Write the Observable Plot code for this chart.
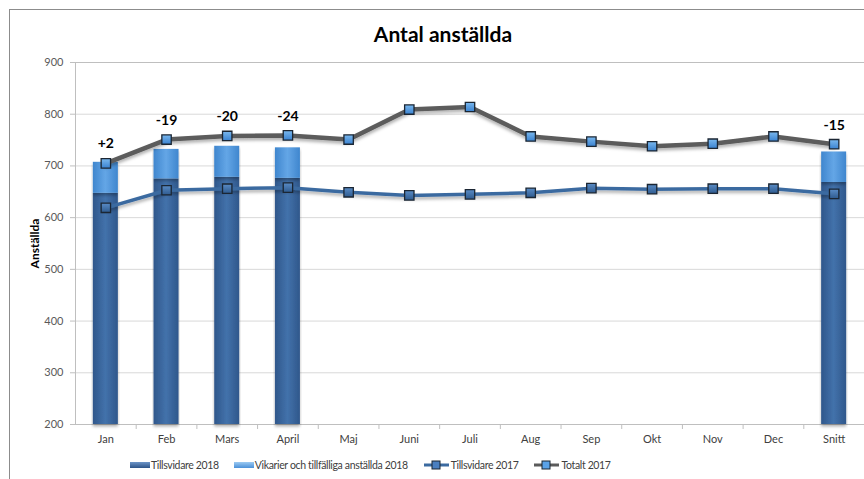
<!DOCTYPE html>
<html>
<head>
<meta charset="utf-8">
<script src="https://cdn.jsdelivr.net/npm/d3@7"></script>
<script src="https://cdn.jsdelivr.net/npm/@observablehq/plot@0.6"></script>
<style>
  html, body { margin: 0; padding: 0; background: #fff; }
  body { width: 864px; height: 479px; overflow: hidden; position: relative; font-family: Lato, "Open Sans", sans-serif; }
  #frame { position: absolute; left: 9px; top: 9px; width: 900px; height: 520px; border: 1.5px solid #8c8c8c; box-sizing: border-box; }
  #title { position: absolute; left: 0; width: 886px; top: 21px; text-align: center; font-size: 21px; font-weight: bold; color: #000; }
  #chart { position: absolute; left: 0; top: 40px; }
  #legend { position: absolute; left: 130px; top: 459px; display: flex; align-items: center; font-family: Lato, sans-serif; font-size: 10.5px; letter-spacing: -0.35px; color: #404040; }
  #legend .item { display: flex; align-items: center; margin-right: 15px; }
  #legend svg { margin-right: 1px; }
</style>
</head>
<body>
<div id="frame"></div>
<div id="title">Antal anställda</div>
<div id="chart"></div>
<div id="legend"></div>
<script>
const months = ["Jan","Feb","Mars","April","Maj","Juni","Juli","Aug","Sep","Okt","Nov","Dec","Snitt"];
const tillsvidare2018 = [647, 675, 678, 676, null, null, null, null, null, null, null, null, 668];
const vikarier2018 = [60, 57, 60, 59, null, null, null, null, null, null, null, null, 59];
const tillsvidare2017 = [619, 653, 656, 658, 649, 643, 645, 648, 657, 655, 656, 656, 646];
const totalt2017 = [705, 751, 758, 759, 751, 809, 814, 757, 747, 738, 743, 757, 742];
const diffLabels = ["+2", "-19", "-20", "-24", null, null, null, null, null, null, null, null, "-15"];
const yTicks = [200, 300, 400, 500, 600, 700, 800, 900];
const yLabel = "Anställda";
const seriesNames = ["Tillsvidare 2018", "Vikarier och tillfälliga anställda 2018", "Tillsvidare 2017", "Totalt 2017"];

const rows = months.map((m, i) => ({
  month: m,
  tv18: tillsvidare2018[i],
  vik18: vikarier2018[i],
  tot18: tillsvidare2018[i] == null ? null : tillsvidare2018[i] + vikarier2018[i],
  tv17: tillsvidare2017[i],
  tot17: totalt2017[i],
  label: diffLabels[i]
}));
const barRows = rows.filter(d => d.tv18 != null);
const labelRows = rows.filter(d => d.label != null);

const W = 864, ML = 75, MR = 0;
const bw = (W - ML - MR) / months.length;
const inset = (bw - 25) / 2;

const chart = Plot.plot({
  width: W,
  height: 412,
  marginLeft: ML,
  marginRight: MR,
  marginTop: 22,
  marginBottom: 28,
  style: { fontFamily: "Lato, 'Open Sans', sans-serif", fontSize: "11px", color: "#595959", overflow: "visible" },
  x: { type: "band", domain: months, paddingInner: 0, paddingOuter: 0, round: false, label: null },
  y: { domain: [200, 900], label: null },
  marks: [
    Plot.gridY(yTicks, { stroke: "#d9d9d9", strokeOpacity: 1 }),
    Plot.frame({ stroke: "#bfbfbf" }),
    Plot.axisY(yTicks, { tickSize: 5, tickPadding: 7, stroke: "#bfbfbf", fill: "#595959", label: null }),
    Plot.axisX({ tickSize: 0, tickPadding: 11, fill: "#404040", label: null }),
    Plot.ruleX(months.slice(1), { x: d => d, y1: 200, y2: 200, insetBottom: -5, dx: -bw / 2, stroke: "#bfbfbf" }),
    Plot.text([yLabel], { frameAnchor: "left", textAnchor: "middle", rotate: -90, dx: -40, fontWeight: "bold", fontSize: 12, fill: "#000" }),
    // bars
    Plot.barY(barRows, { x: "month", y1: 200, y2: "tv18", fill: "url(#gDark)", insetLeft: inset, insetRight: inset }),
    Plot.barY(barRows, { x: "month", y1: "tv18", y2: "tot18", fill: "url(#gLight)", insetLeft: inset, insetRight: inset }),
    Plot.tickY(barRows, { x: "month", y: "tv18", stroke: "url(#gDarkTop)", strokeWidth: 6, dy: 3, insetLeft: inset, insetRight: inset }),
    Plot.tickY(barRows, { x: "month", y: "tot18", stroke: "url(#gLightTop)", strokeWidth: 7, dy: 3.5, insetLeft: inset, insetRight: inset }),
    // lines
    Plot.lineY(rows, { x: "month", y: "tv17", stroke: "#3b6aa0", strokeWidth: 3.5 }),
    Plot.lineY(rows, { x: "month", y: "tot17", stroke: "#5b5b5b", strokeWidth: 4.5 }),
    Plot.dot(rows, { x: "month", y: "tv17", symbol: "square", r: 5.3, fill: "url(#gMarkDark)", stroke: "#1b2633", strokeWidth: 1.3 }),
    Plot.dot(rows, { x: "month", y: "tot17", symbol: "square", r: 5.3, fill: "url(#gMarkLight)", stroke: "#1b2633", strokeWidth: 1.3 }),
    Plot.text(labelRows, { x: "month", y: d => Math.max(d.tot17, d.tot18), text: "label", dy: -19, fontWeight: "bold", fontSize: 14, fill: "#000" })
  ]
});

const svg = d3.select(chart);
const defs = svg.insert("defs", ":first-child");
function grad(id, stops, vertical) {
  const g = defs.append("linearGradient").attr("id", id)
    .attr("x1", 0).attr("y1", 0).attr("x2", vertical ? 0 : 1).attr("y2", vertical ? 1 : 0);
  stops.forEach(([o, c]) => g.append("stop").attr("offset", o).attr("stop-color", c));
}
grad("gDark", [[0, "#2f578b"], [0.5, "#4372ab"], [1, "#2f578b"]]);
grad("gLight", [[0, "#3f86ce"], [0.5, "#64a6e6"], [1, "#3f86ce"]]);
grad("gDarkTop", [[0, "#3f6aa0"], [0.5, "#6d95c8"], [1, "#3f6aa0"]]);
grad("gLightTop", [[0, "#5b9ad8"], [0.5, "#8ec2f0"], [1, "#5b9ad8"]]);
grad("gMarkDark", [[0, "#5a8cc6"], [1, "#2e5a8e"]], true);
grad("gMarkLight", [[0, "#7ab8ee"], [1, "#3a82d0"]], true);
const f = defs.append("filter").attr("id", "shadow").attr("x", "-5%").attr("y", "-20%").attr("width", "110%").attr("height", "160%");
f.append("feDropShadow").attr("dx", 0).attr("dy", 2.5).attr("stdDeviation", 1.5).attr("flood-color", "#000").attr("flood-opacity", 0.3);
svg.selectAll("g[aria-label=line] path").attr("filter", "url(#shadow)");
svg.selectAll("g[aria-label=bar] rect").attr("filter", "url(#shadow)");

document.getElementById("chart").appendChild(chart);

// legend
const legend = d3.select("#legend");
const items = [
  { name: seriesNames[0], type: "bar", fill: "url(#lgDark)" },
  { name: seriesNames[1], type: "bar", fill: "url(#lgLight)" },
  { name: seriesNames[2], type: "line", stroke: "#3b6aa0", mark: "#4a7fc0" },
  { name: seriesNames[3], type: "line", stroke: "#5b5b5b", mark: "#5aa2e8" }
];
items.forEach((it, i) => {
  const el = legend.append("div").attr("class", "item");
  const s = el.append("svg").attr("width", it.type === "bar" ? 20 : 27).attr("height", 12);
  if (i === 0) {
    const d = s.append("defs");
    const g1 = d.append("linearGradient").attr("id", "lgDark").attr("x1", 0).attr("y1", 0).attr("x2", 0).attr("y2", 1);
    g1.append("stop").attr("offset", 0).attr("stop-color", "#6d95c8");
    g1.append("stop").attr("offset", 1).attr("stop-color", "#2d5488");
    const g2 = d.append("linearGradient").attr("id", "lgLight").attr("x1", 0).attr("y1", 0).attr("x2", 0).attr("y2", 1);
    g2.append("stop").attr("offset", 0).attr("stop-color", "#9ccaf2");
    g2.append("stop").attr("offset", 1).attr("stop-color", "#4a90d8");
  }
  if (it.type === "bar") {
    s.append("rect").attr("x", 0).attr("y", 3).attr("width", 20).attr("height", 6).attr("fill", it.fill);
  } else {
    s.append("line").attr("x1", 1).attr("x2", 26).attr("y1", 6).attr("y2", 6).attr("stroke", it.stroke).attr("stroke-width", 3);
    s.append("rect").attr("x", 9).attr("y", 2).attr("width", 8).attr("height", 8).attr("fill", it.mark).attr("stroke", "#1b2633").attr("stroke-width", 1);
  }
  el.append("span").text(it.name);
});
</script>
</body>
</html>
